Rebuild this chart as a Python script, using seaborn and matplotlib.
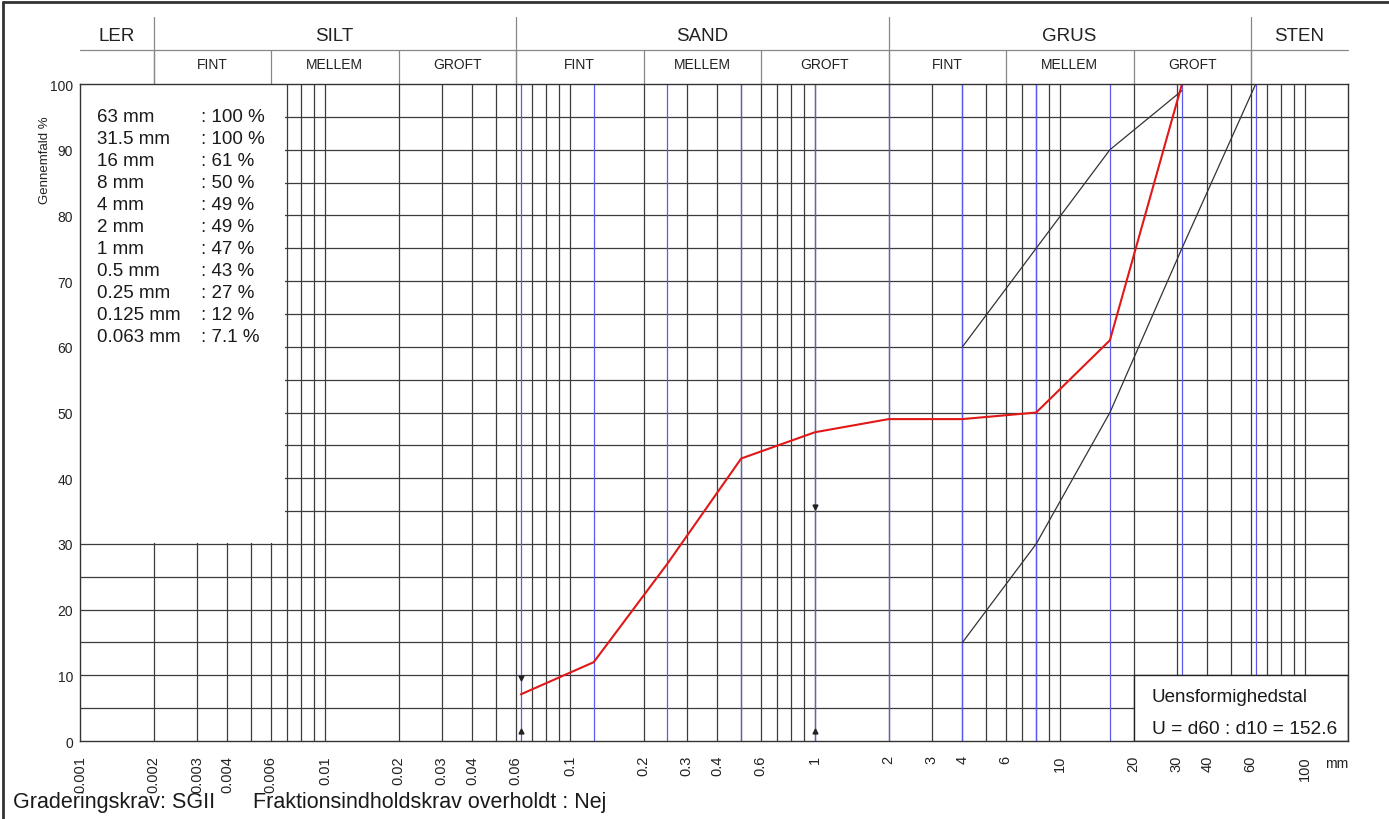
import numpy as np
import pandas as pd
import matplotlib.pyplot as plt
from matplotlib.patches import Rectangle
from matplotlib.lines import Line2D
from matplotlib.ticker import NullLocator
from matplotlib.transforms import blended_transform_factory
import seaborn as sns

sns.set_style('white')
plt.rcParams['font.family'] = ['Liberation Sans', 'DejaVu Sans']

# sigteanalyse - gennemfald
sieve_mm = [63, 31.5, 16, 8, 4, 2, 1, 0.5, 0.25, 0.125, 0.063]
passing = [100, 100, 61, 50, 49, 49, 47, 43, 27, 12, 7.1]

# graderingskrav SGII (graense-kurver)
upper_mm = [4, 8, 16, 31.5]
upper_pct = [60, 75, 90, 99]
lower_mm = [4, 8, 16, 31.5, 63]
lower_pct = [15, 30, 50, 75, 100]

# fraktionskrav-markeringer
mark_mm = [0.063, 1]
mark_max = [9.6, 35.6]
mark_min = [1.5, 1.5]

u_value = 152.6

xtick_vals = [0.001, 0.002, 0.003, 0.004, 0.006, 0.01, 0.02, 0.03, 0.04, 0.06,
              0.1, 0.2, 0.3, 0.4, 0.6, 1, 2, 3, 4, 6, 10, 20, 30, 40, 60, 100]
ytick_vals = list(range(0, 101, 10))

main_names = ['LER', 'SILT', 'SAND', 'GRUS', 'STEN']
main_edges = [0.001, 0.002, 0.06, 2, 60, 150]
sub_names = ['FINT', 'MELLEM', 'GROFT'] * 3
sub_edges = [0.002, 0.006, 0.02, 0.06, 0.2, 0.6, 2, 6, 20, 60]

xmin, xmax = 0.001, 150

fig = plt.figure(figsize=(13.89, 8.2), dpi=100)
ax = fig.add_axes([0.0576, 0.0951, 0.9129, 0.8012])
ax.set_xscale('log')
ax.set_xlim(xmin, xmax)
ax.set_ylim(0, 100)

# gitter
grid_c = '#3c3c3c'
vx = [k * 10.0 ** d for d in range(-3, 3) for k in range(1, 10)]
vx = [v for v in vx if xmin < v < xmax]
ax.vlines(vx, 0, 100, colors=grid_c, lw=0.9, zorder=1)
ax.hlines(np.arange(5, 100, 5), xmin, xmax, colors=grid_c, lw=0.9, zorder=1)
ax.vlines(sieve_mm, 0, 100, colors='#5a5af2', lw=0.9, zorder=1.2)

# hvid boks til tabel
ax.add_patch(Rectangle((xmin, 30.2), 0.00688 - xmin, 69.8, facecolor='white',
                       edgecolor='none', zorder=2.2))

# kurver
sns.lineplot(x=upper_mm, y=upper_pct, color='#333333', lw=0.9, estimator=None, ax=ax, zorder=3)
sns.lineplot(x=lower_mm, y=lower_pct, color='#333333', lw=0.9, estimator=None, ax=ax, zorder=3)
sns.lineplot(x=sieve_mm, y=passing, color='#e01818', lw=1.5, estimator=None, ax=ax, zorder=4)
ax.plot(mark_mm, mark_max, 'v', color='#222222', ms=3.5, zorder=4)
ax.plot(mark_mm, mark_min, '^', color='#222222', ms=3.5, zorder=4)

# akser
ax.set_xticks(xtick_vals)
ax.set_xticklabels(['%g' % v for v in xtick_vals], rotation=90, fontsize=10.5, color='#222222')
ax.xaxis.set_minor_locator(NullLocator())
ax.set_yticks(ytick_vals)
ax.set_yticklabels([str(v) for v in ytick_vals], fontsize=10, color='#222222')
ax.tick_params(axis='x', length=0, pad=10)
ax.tick_params(axis='y', length=0, pad=5)
ax.set_xlabel('')
ax.set_ylabel('')
for s in ax.spines.values():
    s.set_color('#333333')
    s.set_linewidth(1.0)
    s.set_zorder(5)
ax.text(1.0, -0.033, 'mm', transform=ax.transAxes, ha='right', va='center', fontsize=10, color='#222222')
fig.text(45 / 1389, 1 - 160 / 820, 'Gennemfald %', rotation=90, ha='center', va='center',
         fontsize=9.5, color='#222222')

# tabel med sigtetal
for i, (mm, p) in enumerate(zip(sieve_mm, passing)):
    yy = 0.9513 - i * 0.0335
    ax.text(0.0134, yy, '%g mm' % mm, transform=ax.transAxes, va='center', fontsize=13.5,
            color='#1a1a1a', zorder=6)
    ax.text(0.0954, yy, ': %g %%' % p, transform=ax.transAxes, va='center', fontsize=13.5,
            color='#1a1a1a', zorder=6)

# uensformighedstal
ax.add_patch(Rectangle((20, 0), xmax - 20, 10, facecolor='white', edgecolor='#222222',
                       lw=1.0, zorder=4.5))
ax.text(0.8454, 0.0685, 'Uensformighedstal', transform=ax.transAxes, va='center',
        fontsize=13.5, color='#1a1a1a', zorder=6)
ax.text(0.8454, 0.0183, 'U = d60 : d10 = %g' % u_value, transform=ax.transAxes, va='center',
        fontsize=13.8, color='#1a1a1a', zorder=6)

# hoved med jordarter
trans = blended_transform_factory(ax.transData, ax.transAxes)
hc = '#888888'
y_mid, y_top = 1.0518, 1.102
ax.add_line(Line2D([xmin, xmax], [y_mid, y_mid], transform=trans, color=hc, lw=0.9, clip_on=False))
for e in main_edges[1:-1]:
    ax.add_line(Line2D([e, e], [1.0, y_top], transform=trans, color=hc, lw=0.9, clip_on=False))
for e in sub_edges:
    ax.add_line(Line2D([e, e], [1.0, y_mid], transform=trans, color=hc, lw=0.9, clip_on=False))
for name, a, b in zip(main_names, main_edges[:-1], main_edges[1:]):
    ax.text(np.sqrt(a * b), 1.0746, name, transform=trans, ha='center', va='center',
            fontsize=13.5, color='#222222')
for name, a, b in zip(sub_names, sub_edges[:-1], sub_edges[1:]):
    ax.text(np.sqrt(a * b), 1.0304, name, transform=trans, ha='center', va='center',
            fontsize=10, color='#222222')

# bundtekst
fig.text(13 / 1389, 1 - 803 / 820, 'Graderingskrav: SGII', ha='left', va='center',
         fontsize=15.5, color='#1a1a1a')
fig.text(253 / 1389, 1 - 803 / 820, 'Fraktionsindholdskrav overholdt : Nej', ha='left',
         va='center', fontsize=15.5, color='#1a1a1a')

# ramme
fig.add_artist(Line2D([0.002, 1.0], [0.996, 0.996], color='#333333', lw=2))
fig.add_artist(Line2D([0.002, 0.002], [0.0, 0.996], color='#333333', lw=2))

fig.savefig('out.png', dpi=100, facecolor='white')
